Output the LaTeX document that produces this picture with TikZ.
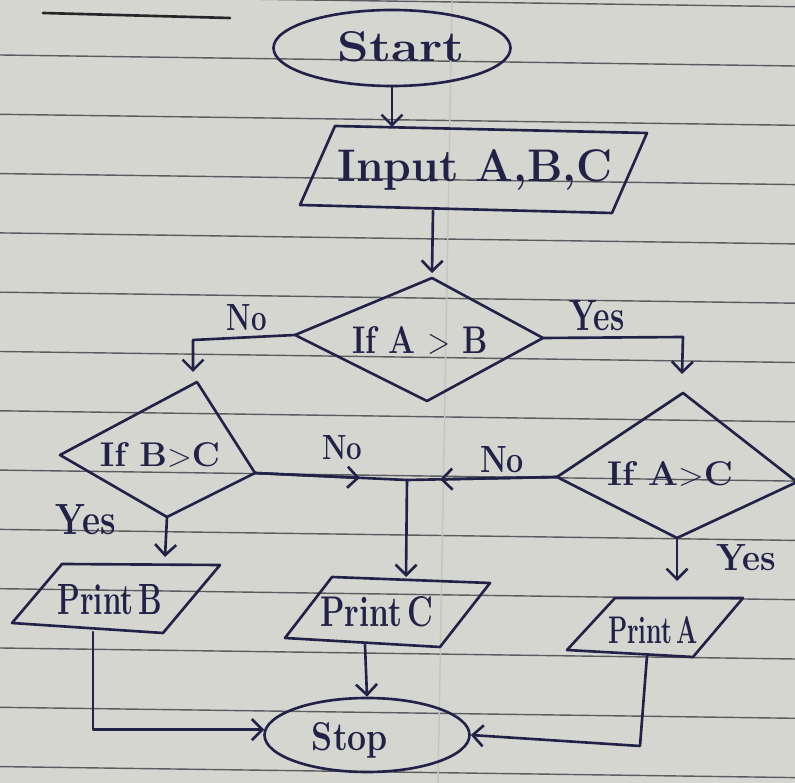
\documentclass[tikz,border=0pt]{standalone}
\usetikzlibrary{arrows.meta,shapes.geometric,calc}
% one drawing unit = one "px" of the page grid
\newlength\pxu
\setlength\pxu{0.02cm}
% set a label to a given width and height (in px units)
\newcommand\hw[3]{\resizebox{#1\pxu}{#2\pxu}{#3}}
\definecolor{paper}{RGB}{214,214,209}
\definecolor{rulecol}{RGB}{92,92,94}
\definecolor{ink}{RGB}{34,34,72}
\begin{document}
\begin{tikzpicture}[x=0.02cm,y=-0.02cm,
  pen/.style={draw=ink, line width=1.5pt, line join=round, line cap=round},
  flow/.style={pen, -{Straight Barb[length=6pt,width=12pt]}},
  terminal/.style={ellipse, pen, inner sep=0pt},
  lbl/.style={text=ink, inner sep=0pt, font=\fontsize{22}{24}\selectfont\bfseries},
]
% ruled notebook page
\fill[paper] (0,0) rectangle (795,783);
\useasboundingbox (0,0) rectangle (795,783);
\foreach \k in {-1,...,12}
  \draw[rulecol, line width=0.8pt] (0,{55+59.3*\k}) -- (795,{66+59.3*\k});
\draw[rulecol!15!paper, line width=0.8pt] (452,0) -- (438,783);
\draw[pen, draw=black!85] (43,13) -- (230,18);

% ---- Start ----
\node[terminal, minimum width=237\pxu, minimum height=76\pxu] (start) at (392,48) {};
\node[lbl] (tStart) at (401,47) {\hw{127}{30}{Start}};

% ---- Input ----
\coordinate (in1) at (335,126);
\coordinate (in2) at (647,133);
\coordinate (in3) at (612,213);
\coordinate (in4) at (300,205);
\draw[pen] (in1) -- (in2) -- (in3) -- (in4) -- cycle;
\node[lbl] (tInput) at (475,170) {\hw{275}{32}{Input A,B,C}};
\coordinate (inTop) at (392,127);
\coordinate (inBot) at (433,211);

% ---- decision A>B ----
\coordinate (ab1) at (432,278);
\coordinate (ab2) at (543,338);
\coordinate (ab3) at (427,401);
\coordinate (ab4) at (295,335);
\draw[pen] (ab1) -- (ab2) -- (ab3) -- (ab4) -- cycle;
\node[lbl] (tAB) at (420,340) {\hw{135}{27}{If A $>$ B}};
\coordinate (abIn) at (432,273);

% ---- decision B>C ----
\coordinate (bc1) at (197,382);
\coordinate (bc2) at (255,473);
\coordinate (bc3) at (167,517);
\coordinate (bc4) at (60,455);
\draw[pen] (bc1) -- (bc2) -- (bc3) -- (bc4) -- cycle;
\node[lbl] (tBC) at (160,455) {\hw{120}{24}{If B$>$C}};

% ---- decision A>C ----
\coordinate (ac1) at (683,393);
\coordinate (ac2) at (797,482);
\coordinate (ac3) at (677,538);
\coordinate (ac4) at (557,477);
\draw[pen] (ac1) -- (ac2) -- (ac3) -- (ac4) -- cycle;
\node[lbl] (tAC) at (670,474) {\hw{126}{24}{If A$>$C}};

% ---- outputs ----
\coordinate (pb1) at (62,564);
\coordinate (pb2) at (220,565);
\coordinate (pb3) at (163,633);
\coordinate (pb4) at (12,623);
\draw[pen] (pb1) -- (pb2) -- (pb3) -- (pb4) -- cycle;
\node[lbl] (tPB) at (110,600) {\hw{105}{30}{Print\,B}};

\coordinate (pc1) at (332,577);
\coordinate (pc2) at (490,583);
\coordinate (pc3) at (440,647);
\coordinate (pc4) at (285,638);
\draw[pen] (pc1) -- (pc2) -- (pc3) -- (pc4) -- cycle;
\node[lbl] (tPC) at (377,612) {\hw{113}{30}{Print\,C}};

\coordinate (pa1) at (615,598);
\coordinate (pa2) at (743,598);
\coordinate (pa3) at (693,657);
\coordinate (pa4) at (567,650);
\draw[pen] (pa1) -- (pa2) -- (pa3) -- (pa4) -- cycle;
\node[lbl] (tPA) at (653,630) {\hw{90}{27}{Print\,A}};

% ---- Stop ----
\node[terminal, minimum width=205\pxu, minimum height=74\pxu] (stop) at (367,735) {};
\node[lbl] (tStop) at (350,740) {\hw{76}{28}{Stop}};

% ---- connectors ----
\draw[flow] (start.south) -- (inTop);
\draw[flow] (inBot) -- (abIn);

\coordinate (noCorner) at (193,340);
\coordinate (bcIn) at (193,372);
\draw[flow] (ab4) -- (noCorner) -- (bcIn);
\node[lbl] (noAB) at (247,318) {\hw{40}{26}{No}};

\coordinate (yesCorner) at (683,337);
\coordinate (acIn) at (682,374);
\draw[flow] (ab2) -- (yesCorner) -- (acIn);
\node[lbl] (yesAB) at (597,316) {\hw{55}{30}{Yes}};

\coordinate (jn) at (407,480);
\draw[pen] (bc2) -- (jn);
\draw[flow] (bc2) -- ($(bc2)!0.69!(jn)$);
\node[lbl] (noBC) at (342,448) {\hw{40}{24}{No}};
\draw[pen] (ac4) -- (jn);
\draw[flow] (ac4) -- ($(ac4)!0.78!(jn)$);
\node[lbl] (noAC) at (502,460) {\hw{44}{26}{No}};

\coordinate (pcIn) at (406,577);
\draw[flow] (jn) -- (pcIn);

\coordinate (pbIn) at (165,557);
\draw[flow] (bc3) -- (pbIn);
\node[lbl] (yesBC) at (86,520) {\hw{60}{30}{Yes}};

\coordinate (paIn) at (677,581);
\draw[flow] (ac3) -- (paIn);
\node[lbl] (yesAC) at (746,558) {\hw{60}{26}{Yes}};

\coordinate (pbOut) at (93,632);
\draw[flow] (pbOut) |- (stop.177);
\coordinate (pcOut) at (365,645);
\draw[flow] (pcOut) -- (stop.north);
\coordinate (paOut) at (647,656);
\coordinate (paCorner) at (640,746);
\draw[flow] (paOut) -- (paCorner) -- (stop.east);
\end{tikzpicture}
\end{document}
